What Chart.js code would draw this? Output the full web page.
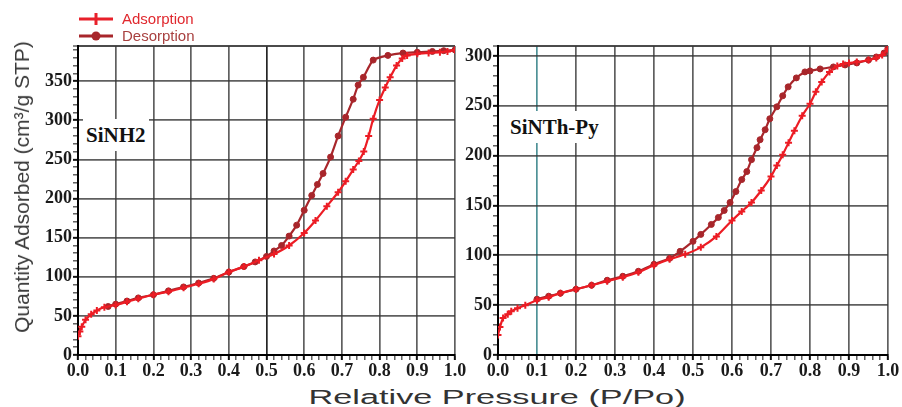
<!DOCTYPE html>
<html><head><meta charset="utf-8">
<script src="https://cdn.jsdelivr.net/npm/chart.js@4.4.0/dist/chart.umd.min.js"></script>
<style>
html,body{margin:0;padding:0;background:#fff;}
body{width:902px;height:407px;overflow:hidden;position:relative;font-family:"Liberation Sans",Arial,sans-serif;}
.wrap{position:absolute;top:0;height:380px;}
#w1{left:0;width:472px;}
#w2{left:440px;width:462px;}
.lab{position:absolute;font-family:"Liberation Serif","Times New Roman",serif;font-weight:bold;font-size:21px;line-height:24px;background:#fff;padding:4px 3px;color:#111;white-space:nowrap;}
#ytitle{position:absolute;left:22px;top:187px;transform:translate(-50%,-50%) rotate(-90deg);font-size:21px;color:#3a3a3a;white-space:nowrap;}
#xtitle{position:absolute;left:497px;top:397px;font-size:20px;color:#333;white-space:nowrap;transform-origin:center;}
.leg{position:absolute;left:78px;font-size:15px;line-height:16px;white-space:nowrap;}
.leg svg{position:absolute;left:0;top:0;}
.leg span{position:absolute;left:44px;top:0;}
</style></head>
<body>
<div class="wrap" id="w1"><canvas id="c1"></canvas></div>
<div class="wrap" id="w2"><canvas id="c2"></canvas></div>
<div id="ytitle">Quantity Adsorbed (cm³/g STP)</div>
<div id="xtitle">Relative Pressure (P/Po)</div>
<div class="leg" style="top:11px;width:130px;height:16px;">
  <svg width="36" height="16"><line x1="1" y1="8" x2="35" y2="8" stroke="#e8202a" stroke-width="3"/><line x1="18" y1="2" x2="18" y2="14" stroke="#e8202a" stroke-width="3"/></svg>
  <span style="color:#e0282e">Adsorption</span>
</div>
<div class="leg" style="top:28px;width:130px;height:16px;">
  <svg width="36" height="16"><line x1="1" y1="8" x2="35" y2="8" stroke="#a8262b" stroke-width="3"/><circle cx="18" cy="8" r="4.5" fill="#a8262b"/></svg>
  <span style="color:#a8403f">Desorption</span>
</div>
<div class="lab" style="left:83px;top:119px;">SiNH2</div>
<div class="lab" style="left:507px;top:111px;">SiNTh-Py</div>
<script>
// ---------------- data ----------------
const tickLabelsX = ['0.0','0.1','0.2','0.3','0.4','0.5','0.6','0.7','0.8','0.9','1.0'];

const siNH2_adsP = [0,0.005,0.01,0.02,0.035,0.05,0.07,0.1,0.13,0.16,0.2,0.24,0.28,0.32,0.36,0.4,0.44,0.48,0.52,0.56,0.6,0.63,0.66,0.69,0.71,0.73,0.745,0.758,0.771,0.783,0.8,0.815,0.828,0.845,0.86,0.873,0.9,0.93,0.96,0.98,1.0];
const siNH2_adsV = [24,30,36,45,52,57,61,64,68,72,77,81,86,91,97,106,113,121,129,140,156,172,190,208,222,237,248,260,280,302,326,342,355,370,379,383,385,386,387,388,390];
const siNH2_desP = [1.0,0.97,0.94,0.9,0.862,0.822,0.783,0.757,0.743,0.73,0.71,0.69,0.67,0.65,0.635,0.62,0.6,0.58,0.56,0.54,0.52,0.5,0.47,0.44,0.4,0.36,0.32,0.28,0.24,0.2,0.16,0.13,0.1,0.08];
const siNH2_desV = [390,389,388,387,386,383,377,355,345,327,304,280,253,232,218,204,185,166,152,140,133,126,119,113,106,98,92,87,82,77,73,69,65,62];

const siNThPy_adsP = [0,0.005,0.013,0.025,0.034,0.05,0.07,0.1,0.13,0.16,0.2,0.24,0.28,0.32,0.36,0.4,0.44,0.48,0.52,0.56,0.6,0.625,0.65,0.675,0.7,0.715,0.73,0.745,0.76,0.78,0.8,0.815,0.83,0.85,0.87,0.885,0.9,0.92,0.95,0.97,0.985,1.0];
const siNThPy_adsV = [20,28,37,41,44,47,50,55,58,62,66,70,74,78,83,90,96,101,108,119,135,144,153,165,179,190,201,213,225,240,252,264,274,284,290,292,293,294,296,298,301,307];
const siNThPy_desP = [1.0,0.99,0.97,0.95,0.92,0.89,0.86,0.826,0.8,0.787,0.765,0.744,0.73,0.715,0.697,0.685,0.672,0.664,0.65,0.638,0.625,0.61,0.595,0.58,0.565,0.547,0.52,0.5,0.467,0.44,0.4,0.36,0.32,0.28,0.24,0.2,0.16,0.13,0.1];
const siNThPy_desV = [308,303,299,296,293,291,289,287,285,284,278,269,260,249,237,226,216,208,196,184,176,164,153,145,138,131,121,114,104,97,91,84,79,75,70,66,62,59,56];

const yMaxLeft = 395, yMaxRight = 310, yMajor = 50;
// --------------------------------------

const ADS = '#ec1c24', DES = '#a8262b';
const GRID = 'rgba(55,55,55,0.8)';
const pts = (xs, ys) => xs.map((x, i) => ({x, y: ys[i]}));

function datasets(aP, aV, dP, dV) {
  return [
    {label:'Adsorption', data: pts(aP, aV), showLine:true, borderColor:ADS, backgroundColor:ADS,
     borderWidth:2.2, pointStyle:'cross', pointRadius:3.5, pointBorderWidth:2, tension:0.2},
    {label:'Desorption', data: pts(dP, dV), showLine:true, borderColor:DES, backgroundColor:DES,
     borderWidth:2.2, pointStyle:'circle', pointRadius:3, pointBorderWidth:1, tension:0.2}
  ];
}

function makeChart(id, ds, ymax, yWidth, padRight, xGridSpecial) {
  const isMajorX = v => Math.round(v * 50) % 5 === 0;
  return new Chart(document.getElementById(id), {
    type: 'scatter',
    data: { datasets: ds },
    options: {
      responsive: true, maintainAspectRatio: false, animation: false,
      layout: { padding: { top: 46, right: padRight, left: 0, bottom: 0 } },
      plugins: { legend: { display: false }, tooltip: { enabled: false } },
      scales: {
        x: {
          type: 'linear', min: 0, max: 1,
          afterFit: s => { s.height = 25; },
          afterBuildTicks: s => { const t = []; for (let i = 0; i <= 50; i++) t.push({value: i / 50}); s.ticks = t; },
          ticks: { autoSkip: false, maxRotation: 0, padding: 1, color: '#1a1a1a',
            font: { family: 'Liberation Serif', weight: 'bold', size: 18 },
            callback: v => isMajorX(v) ? tickLabelsX[Math.round(v * 10)] : '' },
          grid: {
            color: c => { if (!c.tick) return 'transparent'; const v = c.tick.value;
              if (!isMajorX(v)) return 'transparent';
              const sp = xGridSpecial(v); return sp || GRID; },
            lineWidth: 1.7, tickLength: 5,
            tickColor: '#111',
            tickWidth: c => (c.tick && isMajorX(c.tick.value)) ? 2 : 1
          },
          border: { color: '#000', width: 2 }
        },
        y: {
          type: 'linear', min: 0, max: ymax,
          afterFit: s => { s.width = yWidth; },
          afterBuildTicks: s => { const t = []; for (let v = 0; v <= ymax; v += 10) t.push({value: v}); if (t[t.length-1].value !== ymax) t.push({value: ymax}); s.ticks = t; },
          ticks: { autoSkip: false, padding: 1, color: '#1a1a1a',
            font: { family: 'Liberation Serif', weight: 'bold', size: 18 },
            callback: v => (v % yMajor === 0) ? String(v) : '' },
          grid: {
            color: c => { if (!c.tick) return 'transparent'; const v = c.tick.value;
              if (v === ymax) return 'rgba(55,55,55,0.9)';
              return (v % yMajor === 0 && v > 0) ? GRID : 'transparent'; },
            lineWidth: c => (c.tick && c.tick.value === ymax) ? 2 : 1.7,
            tickLength: 5, tickColor: '#111',
            tickWidth: c => (c.tick && c.tick.value % yMajor === 0) ? 2 : 1
          },
          border: { color: '#000', width: 2 }
        }
      }
    }
  });
}

makeChart('c1', datasets(siNH2_adsP, siNH2_adsV, siNH2_desP, siNH2_desV), yMaxLeft, 78, 17,
  v => Math.abs(v - 0.5) < 1e-6 ? 'rgba(25,25,25,0.95)' : null);
makeChart('c2', datasets(siNThPy_adsP, siNThPy_adsV, siNThPy_desP, siNThPy_desV), yMaxRight, 58, 14,
  v => Math.abs(v - 0.1) < 1e-6 ? 'rgba(70,140,145,0.95)' : null);

// stretch x title to the reference width
const xt = document.getElementById('xtitle');
const w = xt.getBoundingClientRect().width, h = xt.getBoundingClientRect().height;
xt.style.left = (497 - w / 2) + 'px';
xt.style.top = (397 - h / 2) + 'px';
xt.style.transform = 'scaleX(' + (377 / w).toFixed(3) + ')';
</script>
</body></html>
